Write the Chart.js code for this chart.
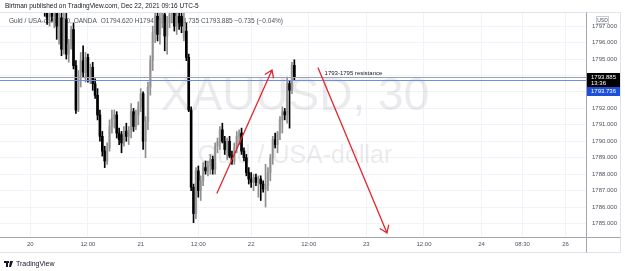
<!DOCTYPE html>
<html><head><meta charset="utf-8">
<script src="https://cdn.jsdelivr.net/npm/chart.js@4.4.1/dist/chart.umd.min.js"></script>
<style>html,body{margin:0;padding:0;background:#fff}#wrap{width:625px;height:271px;position:relative}</style>
</head><body><div id="wrap"><canvas id="c" width="625" height="271"></canvas></div>
<script>
// 30-minute bars, Dec 19 18:00 (UTC-5) onward; value = bar slot index
const opens = [1798.9,1799.3,1799.8,1799.5,1799.7,1800.2,1800.5,1800.1,1799.6,1799.9,1799.4,1799.1,1799.5,1800.0,1800.4,1799.8,1799.2,1798.8,1798.6,1798.0,
1797.5,1797.9,1797.6,1797.8,1797.0,1797.5,1795.6,1797.4,1795.3,1795.9,1796.8,1794.6,1791.9,1794.0,1794.9,1794.2,1795.1,1793.9,1794.5,1793.5,
1792.8,1791.6,1790.3,1789.4,1788.8,1789.6,1790.9,1791.4,1791.6,1790.5,1790.4,1789.9,1790.6,1790.3,1790.7,1791.8,1790.9,1791.6,1792.1,1792.9,
1790.0,1791.2,1793.3,1794.9,1796.6,1797.6,1796.5,1797.4,1797.7,1796.4,1797.2,1797.7,1798.0,1797.0,1797.6,1797.6,1796.3,1796.7,1795.1,1791.9,
1787.2,1785.6,1788.2,1787.0,1787.6,1788.4,1788.2,1788.5,1788.9,1788.3,1789.7,1790.0,1790.7,1790.0,1789.5,1790.0,1789.1,1788.8,1789.6,1790.3,
1790.5,1789.4,1789.0,1788.1,1787.7,1787.5,1787.8,1787.5,1787.7,1787.4,1787.1,1787.3,1788.1,1789.0,1790.1,1789.8,1790.5,1791.3,1791.8,1791.6,
1793.5,1793.1,1794.620];
const highs = [1799.6,1800.1,1800.4,1800.0,1800.6,1800.9,1801.0,1800.5,1800.2,1800.4,1799.9,1799.7,1800.3,1800.8,1800.7,1800.1,1799.6,1799.3,1798.9,1798.4,
1798.2,1798.3,1798.0,1798.1,1797.9,1798.0,1797.9,1798.2,1796.2,1797.0,1797.2,1794.9,1794.3,1795.4,1795.8,1795.4,1795.3,1794.7,1794.8,1793.8,
1793.2,1791.9,1790.6,1789.7,1789.9,1791.3,1791.9,1791.9,1791.8,1790.8,1790.6,1790.9,1791.1,1790.9,1792.3,1792.0,1791.9,1792.4,1793.2,1793.0,
1791.5,1793.6,1795.2,1797.0,1798.2,1798.4,1797.9,1798.3,1798.1,1797.6,1798.0,1798.3,1798.4,1797.9,1798.3,1798.2,1797.8,1797.2,1795.3,1792.1,
1787.4,1788.4,1788.5,1787.9,1788.7,1788.8,1788.8,1789.2,1789.1,1789.9,1790.2,1790.9,1791.1,1790.3,1790.2,1790.3,1789.4,1789.9,1790.6,1790.7,
1790.8,1789.6,1789.2,1788.4,1788.1,1788.0,1788.0,1787.9,1787.9,1787.6,1788.6,1788.4,1789.2,1790.3,1790.5,1790.6,1791.5,1792.1,1792.0,1793.9,
1793.7,1794.8,1794.955];
const lows = [1798.4,1799.0,1799.2,1798.9,1799.4,1799.8,1799.9,1799.3,1799.1,1799.3,1798.8,1798.6,1799.2,1799.6,1799.5,1798.9,1798.5,1798.2,1797.6,1797.1,
1797.0,1797.3,1796.9,1796.2,1795.9,1795.2,1795.3,1795.0,1794.8,1795.6,1794.4,1791.7,1791.8,1793.3,1793.9,1793.6,1793.6,1793.5,1793.1,1792.6,
1791.3,1790.0,1789.1,1788.4,1788.6,1789.4,1790.5,1790.8,1790.2,1789.8,1789.3,1789.7,1790.0,1789.8,1790.2,1790.6,1790.7,1791.0,1791.8,1789.5,
1789.0,1790.7,1792.8,1794.3,1796.0,1796.1,1795.9,1796.9,1795.5,1795.3,1796.9,1797.2,1796.7,1796.5,1796.8,1796.6,1796.1,1794.9,1791.8,1787.0,
1785.05,1785.3,1786.6,1786.4,1787.3,1788.0,1787.9,1788.0,1788.0,1788.0,1789.3,1789.5,1789.9,1789.2,1788.9,1789.0,1788.6,1788.6,1789.3,1789.8,
1789.2,1788.8,1787.9,1787.4,1787.2,1787.0,1787.3,1786.6,1786.4,1786.9,1786.0,1787.0,1787.6,1788.6,1789.6,1789.3,1790.1,1790.5,1791.3,1791.1,
1790.8,1792.9,1793.735];
const closes = [1799.3,1799.8,1799.5,1799.7,1800.2,1800.5,1800.1,1799.6,1799.9,1799.4,1799.1,1799.5,1800.0,1800.4,1799.8,1799.2,1798.8,1798.6,1798.0,1797.5,
1797.9,1797.6,1797.8,1797.0,1797.5,1795.6,1797.4,1795.3,1795.9,1796.8,1794.6,1791.9,1794.0,1794.9,1794.2,1795.1,1793.9,1794.5,1793.5,1792.8,
1791.6,1790.3,1789.4,1788.8,1789.6,1790.9,1791.4,1791.6,1790.5,1790.1,1789.9,1790.6,1790.3,1790.7,1791.8,1790.9,1791.6,1792.1,1792.9,1790.0,
1791.2,1793.3,1794.9,1796.6,1797.6,1796.5,1797.4,1797.9,1796.4,1797.2,1797.7,1798.0,1797.0,1797.6,1797.2,1797.0,1796.7,1795.1,1791.9,1787.2,
1785.6,1788.2,1787.0,1787.6,1788.4,1788.2,1788.5,1788.9,1788.3,1789.7,1790.0,1790.7,1790.0,1789.5,1790.0,1789.1,1788.8,1789.6,1790.3,1790.5,
1789.4,1789.0,1788.1,1787.7,1787.5,1787.8,1787.5,1787.7,1787.4,1787.1,1787.3,1788.1,1789.0,1790.1,1789.8,1790.5,1791.3,1791.8,1791.6,1793.5,
1793.1,1794.6,1793.885];

const xTickSlots  = [12, 36, 58, 82, 104, 128, 152, 176, 200, 217, 235];
const xTickLabels = ['20','12:00','21','12:00','22','12:00','23','12:00','24','08:30','26'];
const yTickValues = [1785,1786,1787,1788,1789,1790,1791,1792,1793,1794,1795,1796,1797];
const lastPrice = 1793.885;
const bidPrice = 1793.736;
const countdown = '13:36';
const arrowLines = [ {from:[89.8,1786.85], to:[112.7,1794.33]}, {from:[131.9,1794.45], to:[160.6,1784.42]} ];
const noteText = '1793-1795 resistance';
const notePos = [134.6, 1794.15];
const headerTop = 'Birtman published on TradingView.com, Dec 22, 2021 09:16 UTC-5';
const legendName = 'Guld / USA-dollar, 30, OANDA';
const legendValues = 'O1794.620 H1794.955 L1793.735 C1793.885 \u22120.735 (\u22120.04%)';
const watermark1 = 'XAUUSD, 30';
const watermark2 = 'Guld / USA-dollar';

const wickData = [], bodyData = [], upFlags = [];
for (let i = 0; i < opens.length; i++) {
  wickData.push({x: i, y: [lows[i], highs[i]]});
  bodyData.push({x: i, y: [opens[i], closes[i]]});
  upFlags.push(closes[i] >= opens[i]);
}
const F = '"Liberation Sans", Arial, sans-serif';

const deco = {
  id: 'deco',
  beforeDatasetsDraw(chart) {
    const ctx = chart.ctx;
    ctx.save();
    ctx.fillStyle = 'rgba(120,123,134,0.15)';
    ctx.textAlign = 'center'; ctx.textBaseline = 'middle';
    ctx.font = '46px ' + F;
    ctx.fillText(watermark1, 295, 97);
    ctx.font = '25px ' + F;
    ctx.fillText(watermark2, 295, 156);
    ctx.textAlign = 'left';
    ctx.font = '6.5px ' + F;
    ctx.fillStyle = '#50535e';
    ctx.fillText(legendName, 9, 21);
    const w = ctx.measureText(legendName).width;
    ctx.fillText(legendValues, 9 + w + 4, 21);
    ctx.restore();
  },
  afterDatasetsDraw(chart) {
    const ctx = chart.ctx, a = chart.chartArea, xs = chart.scales.x, ys = chart.scales.y;
    ctx.save();
    let y = Math.round(ys.getPixelForValue(lastPrice)) + 0.5;
    ctx.strokeStyle = '#9aa0b4'; ctx.lineWidth = 1;
    ctx.beginPath(); ctx.moveTo(a.left, y); ctx.lineTo(a.right, y); ctx.stroke();
    y = Math.round(ys.getPixelForValue(bidPrice)) + 0.5;
    ctx.strokeStyle = '#6d8ee8';
    ctx.beginPath(); ctx.moveTo(a.left, y); ctx.lineTo(a.right, y); ctx.stroke();
    ctx.strokeStyle = '#e3262b'; ctx.lineWidth = 1.3; ctx.lineCap = 'round';
    for (const ar of arrowLines) {
      const x1 = xs.getPixelForValue(ar.from[0]), y1 = ys.getPixelForValue(ar.from[1]);
      const x2 = xs.getPixelForValue(ar.to[0]), y2 = ys.getPixelForValue(ar.to[1]);
      const ang = Math.atan2(y2 - y1, x2 - x1), L = 8, wA = 0.6;
      ctx.beginPath(); ctx.moveTo(x1, y1); ctx.lineTo(x2, y2);
      ctx.moveTo(x2 - L * Math.cos(ang - wA), y2 - L * Math.sin(ang - wA));
      ctx.lineTo(x2, y2);
      ctx.lineTo(x2 - L * Math.cos(ang + wA), y2 - L * Math.sin(ang + wA));
      ctx.stroke();
    }
    ctx.fillStyle = '#131722'; ctx.font = '6px ' + F; ctx.textAlign = 'left'; ctx.textBaseline = 'middle';
    ctx.fillText(noteText, xs.getPixelForValue(notePos[0]), ys.getPixelForValue(notePos[1]));
    ctx.restore();
  },
  afterDraw(chart) {
    const ctx = chart.ctx, a = chart.chartArea, ys = chart.scales.y;
    ctx.save();
    ctx.strokeStyle = '#e0e3eb'; ctx.lineWidth = 1;
    ctx.beginPath();
    ctx.moveTo(0, 12.5); ctx.lineTo(620.5, 12.5);
    ctx.moveTo(620.5, 12.5); ctx.lineTo(620.5, 252.5);
    ctx.moveTo(0, 252.5); ctx.lineTo(620.5, 252.5);
    ctx.stroke();
    ctx.strokeStyle = '#a3a6af';
    ctx.beginPath();
    ctx.moveTo(0, a.bottom + 0.5); ctx.lineTo(620.5, a.bottom + 0.5);
    ctx.moveTo(a.right + 0.5, 12.5); ctx.lineTo(a.right + 0.5, 252.5);
    ctx.stroke();
    ctx.fillStyle = '#131722'; ctx.font = '6.5px ' + F; ctx.textBaseline = 'middle'; ctx.textAlign = 'left';
    ctx.fillText(headerTop, 5, 6);
    ctx.fillStyle = '#fff'; ctx.strokeStyle = '#c9ccd4';
    ctx.fillRect(596, 16, 13, 8); ctx.strokeRect(596.5, 16.5, 12, 7);
    ctx.fillStyle = '#50535e'; ctx.font = '5px ' + F; ctx.textAlign = 'center';
    ctx.fillText('USD', 602.5, 20.5);
    const yl = ys.getPixelForValue(lastPrice);
    const top = Math.round(yl - 4);
    ctx.fillStyle = '#000'; ctx.fillRect(a.right + 1, top, 33, 14);
    ctx.fillStyle = '#fff'; ctx.font = '6px ' + F; ctx.textAlign = 'left';
    ctx.fillText(lastPrice.toFixed(3), a.right + 5, top + 4);
    ctx.fillText(countdown, a.right + 5, top + 10.5);
    ctx.fillStyle = '#1e4fd8'; ctx.fillRect(a.right + 1, top + 14, 33, 9);
    ctx.fillStyle = '#fff';
    ctx.fillText(bidPrice.toFixed(3), a.right + 5, top + 18.5);
    ctx.fillStyle = '#131722';
    ctx.fillRect(4, 261, 5, 2); ctx.fillRect(6, 261, 2, 6);
    ctx.beginPath(); ctx.moveTo(10, 261); ctx.lineTo(13, 261); ctx.lineTo(11, 267); ctx.lineTo(9, 267); ctx.closePath(); ctx.fill();
    ctx.font = '7px ' + F; ctx.textAlign = 'left'; ctx.textBaseline = 'middle';
    ctx.fillText('TradingView', 16, 264);
    ctx.restore();
  }
};

new Chart(document.getElementById('c'), {
  type: 'bar',
  data: {
    datasets: [
      { data: wickData, barThickness: 1, grouped: false, clip: 0,
        backgroundColor: upFlags.map(u => u ? '#8f8f8f' : '#000000') },
      { data: bodyData, barThickness: 2, grouped: false, clip: 0, minBarLength: 1,
        backgroundColor: upFlags.map(u => u ? '#c4c4c4' : '#000000') }
    ]
  },
  options: {
    responsive: false, animation: false, devicePixelRatio: 1,
    layout: { padding: { top: 13, right: 5, bottom: 19, left: 0 } },
    plugins: { legend: { display: false }, tooltip: { enabled: false } },
    scales: {
      x: {
        type: 'linear', min: -0.625, max: 243.5, position: 'bottom', offset: false,
        afterFit(s) { s.height = 15; },
        afterBuildTicks(s) { s.ticks = xTickSlots.map(v => ({ value: v })); },
        grid: { color: '#f0f3fa', drawTicks: false, offset: false },
        border: { display: false },
        ticks: { autoSkip: false, maxRotation: 0, padding: 4, color: '#50535e', font: { size: 6, family: F },
          callback: (v, i) => xTickLabels[i] }
      },
      y: {
        type: 'linear', position: 'right', min: 1784.18, max: 1797.80,
        afterFit(s) { s.width = 34; },
        afterBuildTicks(s) { s.ticks = yTickValues.map(v => ({ value: v })); },
        grid: { color: '#f0f3fa', drawTicks: false },
        border: { display: false },
        ticks: { padding: 6, color: '#50535e', font: { size: 6, family: F },
          callback: v => Number(v).toFixed(3) }
      }
    }
  },
  plugins: [deco]
});
</script></body></html>
